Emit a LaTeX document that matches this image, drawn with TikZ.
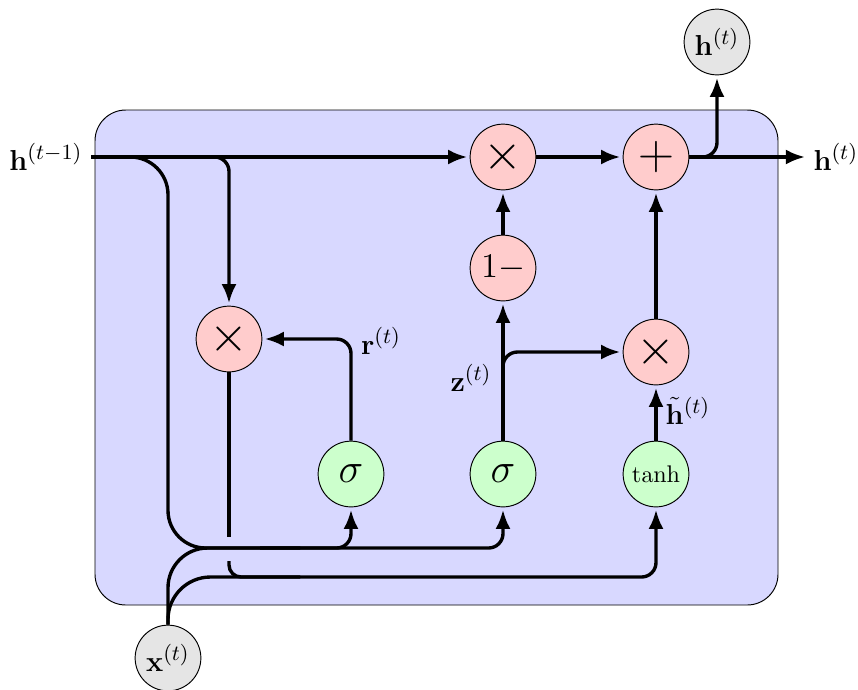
\documentclass[tikz,border=0pt]{standalone}
\usetikzlibrary{arrows.meta,calc}
\definecolor{cellbg}{HTML}{D8D8FF}
\definecolor{opfill}{HTML}{FFCCCC}
\definecolor{actfill}{HTML}{CCFFCC}
\definecolor{iofill}{HTML}{E5E5E5}
\tikzset{
  opnode/.style={circle,draw,fill=opfill,minimum size=0.96cm,inner sep=0pt,font=\huge},
  actnode/.style={circle,draw,fill=actfill,minimum size=0.96cm,inner sep=0pt,font=\LARGE},
  ionode/.style={circle,draw,fill=iofill,minimum size=0.96cm,inner sep=0pt,font=\fontsize{13}{15}\selectfont},
  wire/.style={line width=1.4pt},
  lbl/.style={font=\fontsize{13}{15}\selectfont}
}
\begin{document}
\begin{tikzpicture}[x=0.0146cm,y=-0.0146cm,>={Latex[length=2.8mm,width=2.2mm]}]
\useasboundingbox (0,0) rectangle (858,689);
\draw[fill=cellbg,rounded corners=0.45cm] (95,110) rectangle (778,605);
% operations
\node[opnode] (mulr) at (229,339) {$\times$};
\node[opnode] (mulz) at (503,157) {$\times$};
\node[opnode] (add) at (656,157) {$+$};
\node[opnode,font=\Large] (inv) at (503,268) {$1-$};
\node[opnode] (mulh) at (656,352) {$\times$};
% activations
\node[actnode] (sigr) at (351,474) {$\sigma$};
\node[actnode] (sigz) at (503,474) {$\sigma$};
\node[actnode,font=\normalsize] (tnh) at (656,474) {$\tanh$};
% inputs and outputs
\node[ionode] (xin) at (168,658) {$\mathbf{x}^{(t)}$};
\node[ionode] (hup) at (717,42) {$\mathbf{h}^{(t)}$};
\node[lbl,anchor=east] (hprev) at (91,157) {$\mathbf{h}^{(t-1)}$};
\node[lbl,anchor=west] (hout) at (805,157) {$\mathbf{h}^{(t)}$};
\coordinate (gapA) at (229,537);
\coordinate (gapB) at (229,561);
% previous state
\draw[wire,->,shorten >=1pt] (hprev.east) -- (mulz.west);
\draw[wire,->,shorten >=1pt,rounded corners=6pt] (hprev.east) -| (mulr.north);
\draw[wire,rounded corners=0.55cm] (hprev.east) -| (168,548) -- (300,548);
% input
\draw[wire,rounded corners=0.58cm] (xin.north) |- (300,548);
\draw[wire,rounded corners=0.62cm] (xin.north) |- (300,577);
\draw[wire,->,shorten >=1pt,rounded corners=6pt] (260,548) -| (sigr.south);
\draw[wire,->,shorten >=1pt,rounded corners=6pt] (300,548) -| (sigz.south);
\draw[wire,->,shorten >=1pt,rounded corners=6pt] (300,577) -| (tnh.south);
% reset path
\draw[wire] (mulr.south) -- (gapA);
\draw[wire,rounded corners=5pt] (gapB) |- (300,577);
\draw[wire,->,shorten >=1pt,rounded corners=6pt] (sigr.north) |- (mulr.east);
\node[lbl] (rlab) at (381,341) {$\mathbf{r}^{(t)}$};
% update path
\draw[wire,->,shorten >=1pt] (sigz.north) -- (inv.south);
\draw[wire,->,shorten >=1pt,rounded corners=6pt] (503,392) |- (mulh.west);
\node[lbl] (zlab) at (471,378) {$\mathbf{z}^{(t)}$};
\draw[wire,->,shorten >=1pt] (inv.north) -- (mulz.south);
\draw[wire,->,shorten >=1pt] (mulz.east) -- (add.west);
\draw[wire,->,shorten >=1pt] (tnh.north) -- (mulh.south);
\node[lbl,inner sep=1pt] (hlab) at (688,411) {$\tilde{\mathbf{h}}^{(t)}$};
\draw[wire,->,shorten >=1pt] (mulh.north) -- (add.south);
% output
\draw[wire,->] (add.east) -- (hout.west);
\draw[wire,->,shorten >=1pt,rounded corners=6pt] (add.east) -| (hup.south);
\end{tikzpicture}
\end{document}
